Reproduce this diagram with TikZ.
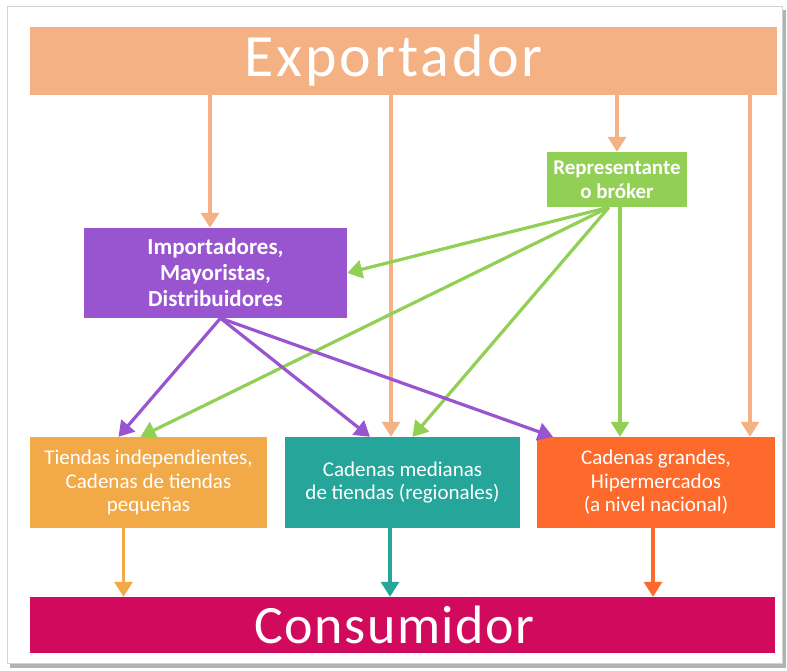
\documentclass[tikz,border=0pt]{standalone}
\usepackage{fontspec}
\setmainfont{Carlito}
\newfontfamily\exfont[LetterSpace=5]{Carlito}
\newfontfamily\cofont[LetterSpace=3]{Carlito}
\usetikzlibrary{arrows.meta}
\definecolor{cexp}{HTML}{F4B183}
\definecolor{crep}{HTML}{92CF55}
\definecolor{cimp}{HTML}{9955CF}
\definecolor{ctie}{HTML}{F2AA48}
\definecolor{cmed}{HTML}{26A69A}
\definecolor{cgra}{HTML}{FD6A2C}
\definecolor{ccon}{HTML}{D10A5D}
\begin{document}
\begin{tikzpicture}
	[x=1pt, y=-1pt,
	box/.style ={fill=#1, text=white, align=center, inner sep=0pt},
	small/.style ={font=\fontsize{21}{24}\selectfont\bfseries},
	mid/.style ={font=\fontsize{23}{26}\selectfont\bfseries},
	low/.style ={font=\fontsize{21}{23.5}\selectfont},
	arr/.style ={draw=#1, line width=3.2pt, -{Triangle[width=18pt,length=15pt]}}]
	\useasboundingbox (0,0) rectangle (787,671);
	\fill[gray!60] (10,10) rectangle (786,668);
	\fill[white] (7,7) rectangle (782,663);
	\draw[gray!35, line width=1pt] (7,7) rectangle (782,663);
	\node[box=cexp, font=\exfont\fontsize{60}{60}\selectfont, minimum width=747pt, minimum height=68pt] (exp) at (403.5,61) {Exportador\hspace{20pt}};
	\node[box=crep, small, minimum width=140pt, minimum height=55pt] (rep) at (617,179.5) {Representante\\o bróker};
	\node[box=cimp, mid, minimum width=263pt, minimum height=90pt] (imp) at (215.5,273) {Importadores,\\Mayoristas,\\Distribuidores};
	\node[box=ctie, low, minimum width=237pt, minimum height=91pt] (tie) at (148.5,482.5) {Tiendas independientes,\\Cadenas de tiendas\\pequeñas};
	\node[box=cmed, low, minimum width=235pt, minimum height=91pt] (med) at (402.5,482.5) {Cadenas medianas\\de tiendas (regionales)};
	\node[box=cgra, low, minimum width=238pt, minimum height=91pt] (gra) at (656,482.5) {Cadenas grandes,\\Hipermercados\\(a nivel nacional)};
	\node[box=ccon, font=\cofont\fontsize{54}{54}\selectfont, minimum width=745pt, minimum height=56pt] (con) at (402.5,625) {Consumidor\hspace{16pt}};
	\coordinate (e1) at ([xshift=-5.5pt]imp.north);
	\coordinate (e2) at ([xshift=-11.5pt]med.north);
	\coordinate (e3) at ([xshift=94pt]gra.north);
	\coordinate (r0) at ([xshift=-8pt]rep.south);
	\coordinate (r1) at ([xshift=3pt]rep.south);
	\coordinate (r2) at ([xshift=-8pt]tie.north);
	\coordinate (r3) at ([xshift=10pt]med.north);
	\coordinate (r4) at ([xshift=-36pt]gra.north);
	\coordinate (i0) at ([xshift=5pt]imp.south);
	\coordinate (i1) at ([xshift=-30pt]tie.north);
	\coordinate (i2) at ([xshift=-32.5pt]med.north);
	\coordinate (i3) at ([xshift=-103pt]gra.north);
	\coordinate (c1) at ([xshift=-25pt]tie.south);
	\coordinate (c2) at ([xshift=-12.5pt]med.south);
	\coordinate (c3) at ([xshift=-3pt]gra.south);
	\draw[arr=cexp] (exp.south -| e1) -- (e1);
	\draw[arr=cexp] (exp.south -| e2) -- (e2);
	\draw[arr=cexp] (exp.south -| rep.north) -- (rep.north);
	\draw[arr=cexp] (exp.south -| e3) -- (e3);
	\draw[arr=crep] (r0) -- (imp.east);
	\draw[arr=crep] (r0) -- (r2);
	\draw[arr=crep] (r0) -- (r3);
	\draw[arr=crep] (r1) -- (r4 -| r1);
	\draw[arr=cimp] (i0) -- (i1);
	\draw[arr=cimp] (i0) -- (i2);
	\draw[arr=cimp] (i0) -- (i3);
	\draw[arr=ctie] (c1) -- (con.north -| c1);
	\draw[arr=cmed] (c2) -- (con.north -| c2);
	\draw[arr=cgra] (c3) -- (con.north -| c3);
\end{tikzpicture}
\end{document}
